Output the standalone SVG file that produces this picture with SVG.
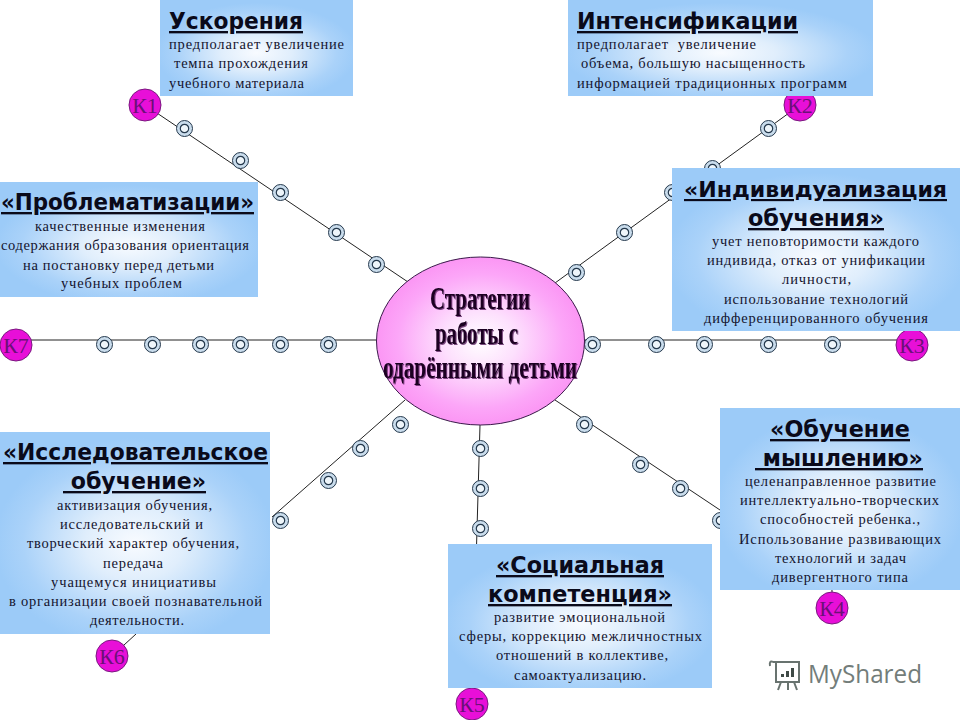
<svg xmlns="http://www.w3.org/2000/svg" xmlns:xlink="http://www.w3.org/1999/xlink" width="960" height="720" viewBox="0 0 960 720">
<style>
.box{fill:url(#boxGrad)}
.t{font:bold 23.5px "DejaVu Sans",sans-serif;fill:#0a0a1a;text-decoration:underline;text-decoration-skip-ink:none;white-space:pre}
.b{font:14.5px "Liberation Serif","DejaVu Serif",serif;fill:#14142e}
.kc{fill:#e80fd8;stroke:#7a1a80;stroke-width:1}
.k{font:22px "Liberation Serif",serif;fill:#6c1078;text-anchor:middle}
.ln{stroke:#222;stroke-width:1;fill:none}
.c{font:bold 31px "Liberation Serif",serif;fill:#1a0520;filter:url(#sh)}
.wm{fill:none;stroke:#68736f;stroke-width:2}
</style>
<defs>
<radialGradient id="boxGrad" cx=".5" cy=".55" r=".52"><stop offset="0" stop-color="#f8fbff"/><stop offset=".35" stop-color="#e0eefc"/><stop offset=".8" stop-color="#aad2f9"/><stop offset="1" stop-color="#9ccbf8"/></radialGradient>
<radialGradient id="elGrad" cx=".5" cy=".5" r=".5"><stop offset="0" stop-color="#fff"/><stop offset=".35" stop-color="#fde0fd"/><stop offset=".8" stop-color="#fca6f8"/><stop offset="1" stop-color="#fb96f4"/></radialGradient>
<filter id="sh" x="-10%" y="-20%" width="120%" height="140%"><feDropShadow dx="1" dy="1" stdDeviation=".6" flood-color="#5a2060" flood-opacity=".8"/></filter>
<g id="bead"><circle r="8" fill="#c9dcec" stroke="#24384c" stroke-width="1"/><circle r="4.2" fill="#eef5fa" stroke="#24384c" stroke-width="1.2"/></g>
</defs>
<rect width="960" height="720" fill="#fff"/>
<g id="connectors">
<path class="ln" d="M145 105L408 282M800 105L555 283M16 340H376M585 340H912M405 400L272 517M136 634L112 656M480 425L472 704M555 400L720 510L832 590V608"/>
<use xlink:href="#bead" x="184.500" y="128.500"/><use xlink:href="#bead" x="240.500" y="160.500"/><use xlink:href="#bead" x="280.500" y="192.500"/><use xlink:href="#bead" x="336.500" y="232.500"/><use xlink:href="#bead" x="376.500" y="264.500"/>
<use xlink:href="#bead" x="768.500" y="128.500"/><use xlink:href="#bead" x="712.500" y="168.500"/><use xlink:href="#bead" x="672.500" y="192.500"/><use xlink:href="#bead" x="624.500" y="232.500"/><use xlink:href="#bead" x="576.500" y="272.500"/>
<use xlink:href="#bead" x="104.500" y="344.500"/><use xlink:href="#bead" x="152.500" y="344.500"/><use xlink:href="#bead" x="200.500" y="344.500"/><use xlink:href="#bead" x="240.500" y="344.500"/><use xlink:href="#bead" x="280.500" y="344.500"/><use xlink:href="#bead" x="328.500" y="344.500"/>
<use xlink:href="#bead" x="592.500" y="344.500"/><use xlink:href="#bead" x="656.500" y="344.500"/><use xlink:href="#bead" x="704.500" y="344.500"/><use xlink:href="#bead" x="768.500" y="344.500"/><use xlink:href="#bead" x="832.500" y="344.500"/>
<use xlink:href="#bead" x="400.500" y="424.500"/><use xlink:href="#bead" x="360.500" y="448.500"/><use xlink:href="#bead" x="328.500" y="480.500"/><use xlink:href="#bead" x="280.500" y="520.500"/>
<use xlink:href="#bead" x="480.500" y="448.500"/><use xlink:href="#bead" x="480.500" y="488.500"/><use xlink:href="#bead" x="480.500" y="528.500"/>
<use xlink:href="#bead" x="584.500" y="424.500"/><use xlink:href="#bead" x="640.500" y="464.500"/><use xlink:href="#bead" x="680.500" y="488.500"/><use xlink:href="#bead" x="720.500" y="520.500"/>
</g>
<g id="k1"><circle class="kc" cx="145" cy="105" r="16"/><text class="k" x="145" y="113">К1</text></g>
<g id="k2"><circle class="kc" cx="800" cy="105" r="16"/><text class="k" x="800" y="113">К2</text></g>
<g id="k3"><circle class="kc" cx="912" cy="345" r="16"/><text class="k" x="912" y="353">К3</text></g>
<g id="k4"><circle class="kc" cx="832" cy="608" r="16"/><text class="k" x="832" y="616">К4</text></g>
<g id="k5"><circle class="kc" cx="472" cy="704" r="16"/><text class="k" x="472" y="712">К5</text></g>
<g id="k6"><circle class="kc" cx="112" cy="656" r="16"/><text class="k" x="112" y="664">К6</text></g>
<g id="k7"><circle class="kc" cx="16" cy="345" r="16"/><text class="k" x="16" y="353">К7</text></g>
<g id="center"><ellipse cx="480.500" cy="341" rx="104" ry="84" fill="url(#elGrad)" stroke="#3a1a4a" stroke-width="1"/>
<text class="c" x="430" y="309" textLength="100" lengthAdjust="spacingAndGlyphs">Стратегии</text>
<text class="c" x="435" y="344" textLength="83" lengthAdjust="spacingAndGlyphs">работы с</text>
<text class="c" x="383" y="378" textLength="194" lengthAdjust="spacingAndGlyphs">одарёнными детьми</text></g>
<g id="uskoreniya"><rect class="box" x="160" y="0" width="193" height="96"/>
<text class="t" x="169" y="29" textLength="134" lengthAdjust="spacingAndGlyphs">Ускорения</text>
<text class="b" x="169" y="49" textLength="175">предполагает увеличение</text>
<text class="b" x="174" y="68" textLength="134">темпа прохождения</text>
<text class="b" x="169" y="88" textLength="135">учебного материала</text></g>
<g id="intensifikatsii"><rect class="box" x="568" y="0" width="305" height="96"/>
<text class="t" x="577" y="29" textLength="221" lengthAdjust="spacingAndGlyphs">Интенсификации</text>
<text class="b" x="577" y="49" textLength="179" style="white-space:pre">предполагает  увеличение</text>
<text class="b" x="581" y="68" textLength="224">объема, большую насыщенность</text>
<text class="b" x="577" y="88" textLength="270">информацией традиционных программ</text></g>
<g id="problematizatsii"><rect class="box" x="0" y="182" width="258" height="115"/>
<text class="t" x="1" y="210" textLength="253" lengthAdjust="spacingAndGlyphs">«Проблематизации»</text>
<text class="b" x="35" y="231" textLength="170">качественные изменения</text>
<text class="b" x="1" y="250" textLength="248">содержания образования ориентация</text>
<text class="b" x="23" y="270" textLength="191">на постановку перед детьми</text>
<text class="b" x="61" y="288" textLength="121">учебных проблем</text></g>
<g id="individualizatsiya"><rect class="box" x="672" y="168" width="288" height="163"/>
<text class="t" x="684" y="197" textLength="263" lengthAdjust="spacingAndGlyphs" style="font-size:21.5px">«Индивидуализация</text>
<text class="t" x="748" y="226" textLength="136" lengthAdjust="spacingAndGlyphs">обучения»</text>
<text class="b" x="712" y="246" textLength="207">учет неповторимости каждого</text>
<text class="b" x="707" y="265" textLength="218">индивида, отказ от унификации</text>
<text class="b" x="782" y="284" textLength="69">личности,</text>
<text class="b" x="724" y="304" textLength="184">использование технологий</text>
<text class="b" x="704" y="323" textLength="224">дифференцированного обучения</text></g>
<g id="issledovatelskoe"><rect class="box" x="0" y="432" width="270" height="202"/>
<text class="t" x="3" y="460" textLength="265" lengthAdjust="spacingAndGlyphs">«Исследовательское</text>
<text class="t" x="63" y="489" textLength="143" lengthAdjust="spacingAndGlyphs"> обучение»</text>
<text class="b" x="57" y="510" textLength="155">активизация обучения,</text>
<text class="b" x="60" y="529" textLength="143">исследовательский и</text>
<text class="b" x="27" y="548" textLength="212">творческий характер обучения,</text>
<text class="b" x="103" y="568" textLength="60">передача</text>
<text class="b" x="51" y="587" textLength="165">учащемуся инициативы</text>
<text class="b" x="9" y="606" textLength="253">в организации своей познавательной</text>
<text class="b" x="90" y="625" textLength="94">деятельности.</text></g>
<g id="sotsialnaya"><rect class="box" x="448" y="544" width="264" height="144"/>
<text class="t" x="496" y="573" textLength="168" lengthAdjust="spacingAndGlyphs">«Социальная</text>
<text class="t" x="488" y="602" textLength="184" lengthAdjust="spacingAndGlyphs">компетенция»</text>
<text class="b" x="494" y="622" textLength="171">развитие эмоциональной</text>
<text class="b" x="459" y="641" textLength="243">сферы, коррекцию межличностных</text>
<text class="b" x="496" y="660" textLength="172">отношений в коллективе,</text>
<text class="b" x="514" y="680" textLength="132">самоактуализацию.</text></g>
<g id="myshleniyu"><rect class="box" x="720" y="408" width="240" height="182"/>
<text class="t" x="770" y="437" textLength="140" lengthAdjust="spacingAndGlyphs">«Обучение</text>
<text class="t" x="755" y="466" textLength="168" lengthAdjust="spacingAndGlyphs"> мышлению»</text>
<text class="b" x="745" y="486" textLength="191">целенаправленное развитие</text>
<text class="b" x="740" y="505" textLength="199">интеллектуально-творческих</text>
<text class="b" x="760" y="524" textLength="160">способностей ребенка.,</text>
<text class="b" x="739" y="544" textLength="202">Использование развивающих</text>
<text class="b" x="775" y="563" textLength="131">технологий и задач</text>
<text class="b" x="772" y="582" textLength="136">дивергентного типа</text></g>
<g id="watermark">
<path class="wm" d="M773 662H800M776 662V682H799V662M773 662Q769 660 770 666M781 682L778 690M794 682L797 690M788 682V690"/>
<path d="M781 677V674H784V677ZM786 677V671H789V677ZM791 677V668H794V677Z" fill="#3f4a46"/>
<text x="808" y="683" font-family="'Open Sans',sans-serif" font-size="26" fill="#737d7a" textLength="114" lengthAdjust="spacingAndGlyphs">MyShared</text>
</g>
</svg>
